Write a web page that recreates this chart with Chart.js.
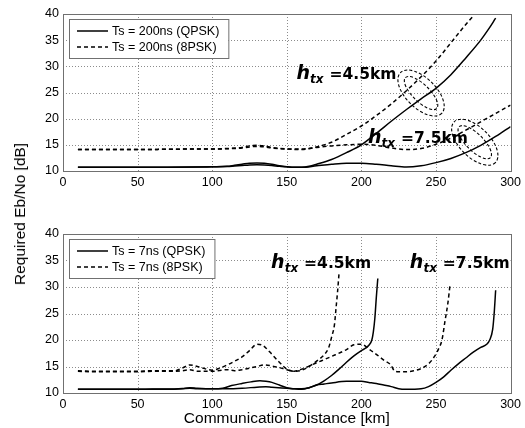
<!DOCTYPE html>
<html>
<head>
<meta charset="utf-8">
<script src="https://cdn.jsdelivr.net/npm/chart.js@4/dist/chart.umd.min.js"></script>
<style>
  html, body { margin:0; padding:0; background:#fff; }
  #wrap { position:relative; width:525px; height:428px; overflow:hidden; }
  #c1 { position:absolute; left:0; top:0; }
  #c2 { position:absolute; left:0; top:200px; }
  #ylab { position:absolute; left:20px; top:214px; transform:translate(-50%,-50%) rotate(-90deg);
          font-family:"Liberation Sans", Arial, sans-serif; font-size:15.5px; color:#000; white-space:nowrap; }
</style>
</head>
<body>
<div id="wrap">
  <canvas id="c1" width="525" height="200"></canvas>
  <canvas id="c2" width="525" height="228"></canvas>
  <div id="ylab">Required Eb/No [dB]</div>
</div>
<script>
// ---------- DATA ----------
const xTicks = [0, 50, 100, 150, 200, 250, 300];
const yTicks = [10, 15, 20, 25, 30, 35, 40];

// Top panel: Ts = 200ns
const legendTop = ["Ts = 200ns (QPSK)", "Ts = 200ns (8PSK)"];
const dTopQ45 = [10,30,50,70,90,100,110,115,120,125,130,135,140,145,150,155,160,165,170,180,190,200,210,220,230,240,250,260,270,280,285,290];
const vTopQ45 = [10.7,10.7,10.7,10.7,10.75,10.8,10.9,11.1,11.3,11.5,11.55,11.5,11.3,11.0,10.8,10.7,10.7,10.9,11.3,12.2,13.5,15.0,17.2,19.5,21.7,23.8,25.8,28.4,31.6,35.0,37.0,39.2];
const dTopQ75 = [10,30,50,70,90,100,110,115,120,125,130,135,140,145,150,155,160,170,180,190,200,210,220,230,240,250,260,270,280,290,300];
const vTopQ75 = [10.7,10.7,10.7,10.7,10.75,10.8,10.85,10.95,11.05,11.15,11.2,11.15,11.05,10.9,10.8,10.7,10.7,11.0,11.3,11.5,11.5,11.3,11.0,10.75,11.0,11.6,12.4,13.5,14.9,16.6,18.5];
const dTopP45 = [10,30,50,70,90,100,110,120,125,130,135,140,150,160,170,180,190,200,210,220,230,240,250,260,270,275];
const vTopP45 = [14.1,14.1,14.1,14.15,14.2,14.2,14.3,14.5,14.8,14.9,14.8,14.5,14.2,14.1,14.6,15.5,17.0,18.6,20.6,22.8,25.3,28.0,31.0,34.5,38.0,39.6];
const dTopP75 = [10,30,50,70,90,100,110,120,125,130,135,140,150,160,170,180,190,200,210,220,230,240,250,260,270,280,290,300];
const vTopP75 = [14.1,14.1,14.1,14.15,14.2,14.2,14.25,14.4,14.6,14.7,14.6,14.4,14.2,14.2,14.5,14.8,15.0,15.1,14.9,14.4,14.1,14.3,15.1,16.3,17.8,19.4,21.0,22.6];

// Bottom panel: Ts = 7ns
const legendBot = ["Ts = 7ns (QPSK)", "Ts = 7ns (8PSK)"];
const dBotQ45 = [10,20,30,40,50,60,70,80,85,90,100,107,113,120,126,132,136,140,145,150,155,160,165,170,175,180,185,190,195,200,203,205,207,208,209,210,211];
const vBotQ45 = [10.7,10.7,10.7,10.7,10.7,10.75,10.75,10.85,11.0,10.9,10.8,10.9,11.4,11.8,12.1,12.3,12.2,12.0,11.5,11.0,10.8,10.7,11.0,11.5,12.3,13.3,14.5,15.8,17.0,18.0,18.5,19.0,20.0,21.5,24.0,28.0,31.6];
const dBotQ75 = [10,20,30,40,50,60,70,80,85,90,100,110,120,130,136,140,150,155,160,165,170,175,180,190,195,200,205,210,215,220,225,230,240,245,250,255,260,265,270,275,280,284,286,288,289,290];
const vBotQ75 = [10.7,10.7,10.7,10.7,10.7,10.7,10.7,10.8,10.9,10.8,10.8,10.8,10.9,11.1,11.2,11.1,10.9,10.8,10.8,11.0,11.5,11.7,11.9,12.2,12.2,12.2,12.0,11.8,11.5,11.2,10.8,10.7,10.8,11.2,12.0,13.0,14.3,15.5,16.6,17.7,18.6,19.2,20.0,22.0,25.0,29.4];
const dBotP45 = [10,20,30,40,50,60,70,75,80,85,90,95,100,105,110,115,120,125,130,133,136,140,145,150,155,160,165,170,175,178,180,182,183,184,185];
const vBotP45 = [14.2,14.1,14.1,14.1,14.1,14.2,14.2,14.2,14.7,15.3,15.0,14.6,14.3,14.7,15.3,16.0,16.8,18.0,19.2,19.1,18.5,17.3,15.8,14.5,14.1,14.3,15.0,16.0,17.2,18.5,20.5,23.0,26.0,29.0,32.5];
const dBotP75 = [10,20,30,40,50,60,70,80,85,90,100,110,115,120,130,135,140,145,150,155,160,170,180,190,195,200,205,210,215,220,222,225,230,235,240,245,249,252,254,256,258,259.5];
const vBotP75 = [14.1,14.0,14.0,14.0,14.0,14.1,14.1,14.2,14.4,14.1,14.1,14.4,14.2,14.4,15.0,15.3,15.1,14.8,14.4,14.1,14.5,15.7,16.9,18.2,19.1,19.2,18.3,17.3,16.2,15.2,14.2,14.0,14.0,14.2,14.6,15.5,16.9,18.5,20.0,23.5,27.0,30.6];

// Annotation texts and anchor values (km, dB)
const annTop = [
  {num:"=4.5km", x:156.5, y:28.7},
  {num:"=7.5km", x:204.5, y:16.5}
];
const annBot = [
  {num:"=4.5km", x:139.5, y:34.7},
  {num:"=7.5km", x:232.5, y:34.7}
];
const ellTop = [ {x:240, y:24.9}, {x:276, y:15.5} ];

// ---------- HELPERS ----------
const FONT = '"Liberation Sans", Arial, sans-serif';
function pts(xs, ys){ return xs.map((x,i)=>({x:x, y:ys[i]})); }
function ds(label, xs, ys, dashed){
  return { label, data: pts(xs, ys), borderColor:'#000', borderWidth:1.5,
           borderDash: dashed ? [4,3] : [], pointRadius:0, showLine:true, fill:false, tension:0.3, cubicInterpolationMode:'monotone' };
}

const framePlugin = {
  id:'frame',
  beforeDatasetsDraw(chart){
    const {ctx, chartArea:a} = chart;
    const xs = chart.scales.x, ys = chart.scales.y;
    ctx.save();
    ctx.strokeStyle = '#8c8c8c'; ctx.lineWidth = 1; ctx.setLineDash([1,2]);
    xTicks.forEach(v=>{
      const p = Math.round(xs.getPixelForValue(v)) + 0.5;
      if (p < a.left+1 || p > a.right-1) return;
      ctx.beginPath(); ctx.moveTo(p, a.top); ctx.lineTo(p, a.bottom); ctx.stroke();
    });
    yTicks.forEach(v=>{
      const p = Math.round(ys.getPixelForValue(v)) + 0.5;
      if (p < a.top+1 || p > a.bottom-1) return;
      ctx.beginPath(); ctx.moveTo(a.left, p); ctx.lineTo(a.right, p); ctx.stroke();
    });
    ctx.restore();
  },
  afterDatasetsDraw(chart){
    const {ctx, chartArea:a} = chart;
    ctx.save();
    ctx.strokeStyle = '#707070'; ctx.lineWidth = 1; ctx.setLineDash([]);
    ctx.strokeRect(Math.round(a.left)+0.5, Math.round(a.top)+0.5, Math.round(a.right-a.left), Math.round(a.bottom-a.top));
    ctx.restore();
  },
  afterDraw(chart, args, opts){
    const {ctx, chartArea:a} = chart;
    const xs = chart.scales.x, ys = chart.scales.y;
    ctx.save();
    (opts.ellipses||[]).forEach(e=>{
      const cx = xs.getPixelForValue(e.x), cy = ys.getPixelForValue(e.y);
      ctx.strokeStyle='#000'; ctx.lineWidth=1.1; ctx.setLineDash([3,2]);
      [[29,15],[22,8.5]].forEach(r=>{
        ctx.beginPath(); ctx.ellipse(cx, cy, r[0], r[1], 0.78, 0, Math.PI*2); ctx.stroke();
      });
    });
    ctx.setLineDash([]);
    (opts.notes||[]).forEach(n=>{
      let x = xs.getPixelForValue(n.x), y = ys.getPixelForValue(n.y);
      ctx.fillStyle='#000'; ctx.textBaseline='alphabetic'; ctx.textAlign='left';
      ctx.font = 'italic bold 19px "DejaVu Sans", sans-serif';
      ctx.fillText('h', x, y+6);
      let w = ctx.measureText('h').width;
      ctx.font = 'italic bold 12px "DejaVu Sans", sans-serif';
      ctx.fillText('tx', x+w, y+10);
      w += ctx.measureText('tx').width;
      ctx.font = 'bold 15.5px "DejaVu Sans", sans-serif';
      ctx.fillText(n.num, x+w+6, y+6);
    });
    const L = opts.legend;
    if (L){
      const lx = a.left + 6, ly = a.top + 5;
      ctx.font = '12.5px ' + FONT;
      let tw = 0; L.labels.forEach(t=>{ tw = Math.max(tw, ctx.measureText(t).width); });
      const bw = 47 + tw + 5, bh = 39;
      ctx.fillStyle='#fff'; ctx.fillRect(lx, ly, bw, bh);
      ctx.strokeStyle='#707070'; ctx.lineWidth=1; ctx.strokeRect(lx+0.5, ly+0.5, bw, bh);
      L.labels.forEach((t,i)=>{
        const yy = ly + 12 + i*16;
        ctx.strokeStyle='#000'; ctx.lineWidth=1.5; ctx.setLineDash(i===1?[4,3]:[]);
        ctx.beginPath(); ctx.moveTo(lx+8, yy); ctx.lineTo(lx+39, yy); ctx.stroke();
        ctx.setLineDash([]);
        ctx.fillStyle='#000'; ctx.textBaseline='middle'; ctx.fillText(t, lx+43, yy+1);
      });
    }
    ctx.restore();
  }
};

function makeOpts(padTop, xHeight, showTitle, pluginOpts){
  return {
    responsive:false, animation:false, maintainAspectRatio:false,
    layout:{ padding:{ left:0, right:12, top:padTop, bottom:0 } },
    plugins:{ legend:{display:false}, tooltip:{enabled:false}, frame: pluginOpts },
    scales:{
      x:{ type:'linear', min:0, max:300,
          afterBuildTicks(s){ s.ticks = xTicks.map(v=>({value:v})); },
          afterFit(s){ s.height = xHeight; },
          grid:{ display:false, drawTicks:false },
          border:{ display:false },
          ticks:{ color:'#000', font:{family:FONT, size:12.5}, padding:4, maxRotation:0 },
          title:{ display:showTitle, text:'Communication Distance [km]', color:'#000',
                  font:{family:FONT, size:15.5}, padding:{top:0, bottom:0} }
      },
      y:{ type:'linear', min:10, max:40,
          afterBuildTicks(s){ s.ticks = yTicks.map(v=>({value:v})); },
          afterFit(s){ s.width = 63; },
          grid:{ display:false, drawTicks:false },
          border:{ display:false },
          ticks:{ color:'#000', font:{family:FONT, size:12.5}, padding:4 }
      }
    }
  };
}

new Chart(document.getElementById('c1'), {
  type:'scatter',
  data:{ datasets:[
    ds(legendTop[0]+' 4.5km', dTopQ45, vTopQ45, false),
    ds(legendTop[1]+' 4.5km', dTopP45, vTopP45, true),
    ds(legendTop[0]+' 7.5km', dTopQ75, vTopQ75, false),
    ds(legendTop[1]+' 7.5km', dTopP75, vTopP75, true)
  ]},
  options: makeOpts(14, 29, false, { legend:{labels:legendTop}, notes:annTop, ellipses:ellTop }),
  plugins:[framePlugin]
});

new Chart(document.getElementById('c2'), {
  type:'scatter',
  data:{ datasets:[
    ds(legendBot[0]+' 4.5km', dBotQ45, vBotQ45, false),
    ds(legendBot[1]+' 4.5km', dBotP45, vBotP45, true),
    ds(legendBot[0]+' 7.5km', dBotQ75, vBotQ75, false),
    ds(legendBot[1]+' 7.5km', dBotP75, vBotP75, true)
  ]},
  options: makeOpts(34, 35, true, { legend:{labels:legendBot}, notes:annBot, ellipses:[] }),
  plugins:[framePlugin]
});
</script>
</body>
</html>
